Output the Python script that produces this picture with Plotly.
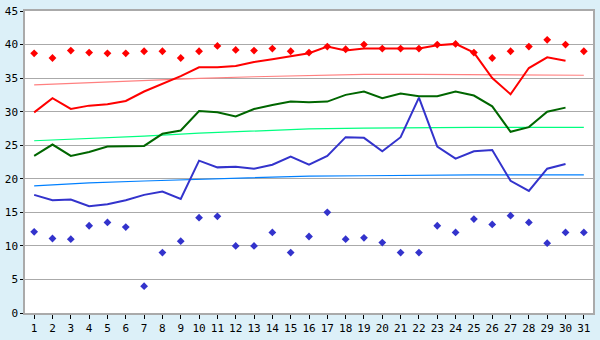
import plotly.graph_objects as go

days = list(range(1, 31))
days_all = list(range(1, 32))

avg_max = [29.9, 32.0, 30.4, 30.9, 31.1, 31.6, 33.0, 34.1, 35.3, 36.6,
           36.6, 36.8, 37.4, 37.8, 38.3, 38.7, 39.7, 39.1, 39.4, 39.4,
           39.3, 39.4, 39.9, 40.1, 38.8, 35.0, 32.6, 36.5, 38.1, 37.6]
avg_mean = [23.4, 25.1, 23.4, 24.0, 24.8, 24.9, 24.9, 26.7, 27.2, 30.1,
            29.9, 29.3, 30.4, 31.0, 31.5, 31.4, 31.5, 32.5, 33.0, 32.0,
            32.7, 32.3, 32.3, 33.0, 32.4, 30.8, 27.0, 27.7, 30.0, 30.6]
avg_min = [17.6, 16.8, 16.9, 15.9, 16.2, 16.8, 17.6, 18.1, 17.0, 22.7,
           21.7, 21.8, 21.5, 22.1, 23.3, 22.1, 23.4, 26.2, 26.1, 24.1,
           26.2, 32.1, 24.8, 23.0, 24.1, 24.3, 19.7, 18.2, 21.5, 22.2]
rec_max = [38.7, 38.0, 39.1, 38.8, 38.7, 38.7, 39.0, 39.0, 38.0, 39.0,
           39.8, 39.2, 39.1, 39.4, 39.0, 38.8, 39.7, 39.3, 40.0, 39.4,
           39.4, 39.4, 40.0, 40.1, 38.8, 38.0, 39.0, 39.7, 40.7, 40.0, 39.0]
rec_min = [12.1, 11.1, 11.0, 13.0, 13.5, 12.8, 4.0, 9.0, 10.7, 14.2,
           14.4, 10.0, 10.0, 12.0, 9.0, 11.4, 15.0, 11.0, 11.2, 10.5,
           9.0, 9.0, 13.0, 12.0, 14.0, 13.2, 14.5, 13.5, 10.4, 12.0, 12.0]

trend_x = [1, 4, 7, 10, 13, 16, 19, 22, 25, 28, 31]
trend_max = [34.0, 34.35, 34.65, 34.95, 35.2, 35.4, 35.55, 35.57, 35.55, 35.5, 35.43]
trend_mean = [25.67, 26.0, 26.35, 26.8, 27.1, 27.43, 27.55, 27.65, 27.67, 27.67, 27.67]
trend_min = [18.95, 19.38, 19.67, 19.9, 20.1, 20.4, 20.45, 20.55, 20.57, 20.57, 20.57]

x_ticks = [str(d) for d in days_all]
y_ticks = list(range(0, 46, 5))

fig = go.Figure()

def line(x, y, color, width):
    fig.add_trace(go.Scatter(x=x, y=y, mode="lines",
                             line=dict(color=color, width=width),
                             showlegend=False, hoverinfo="skip"))

line(trend_x, trend_max, "#FF8080", 1.2)
line(trend_x, trend_mean, "#00FF80", 1.2)
line(trend_x, trend_min, "#0080FF", 1.2)
line(days, avg_max, "#FF0000", 2)
line(days, avg_mean, "#006600", 2)
line(days, avg_min, "#3333CC", 2)

fig.add_trace(go.Scatter(x=days_all, y=rec_max, mode="markers",
                         marker=dict(symbol="diamond", size=6, color="#FF0000"),
                         showlegend=False))
fig.add_trace(go.Scatter(x=days_all, y=rec_min, mode="markers",
                         marker=dict(symbol="diamond", size=6, color="#3333CC"),
                         showlegend=False))

fig.update_layout(
    width=600, height=340,
    margin=dict(l=21, r=5, t=5, b=20),
    paper_bgcolor="#DCF0F8",
    plot_bgcolor="#FFFFFF",
    font=dict(family="DejaVu Sans Mono", size=11, color="#000000"),
    xaxis=dict(range=[0.5, 31.5], tickmode="array", tickvals=days_all,
               ticktext=x_ticks, ticks="outside", ticklen=4, tickcolor="#000000",
               showgrid=False, zeroline=False, showline=True, linecolor="#AAAAAA",
               linewidth=1.5, mirror=True, tickfont=dict(size=11)),
    yaxis=dict(range=[0, 45], tickmode="array", tickvals=y_ticks,
               ticks="outside", ticklen=3, tickcolor="#000000",
               showgrid=True, gridcolor="#AAAAAA", gridwidth=1, zeroline=False,
               showline=True, linecolor="#AAAAAA", linewidth=1.5, mirror=True,
               tickfont=dict(size=11)),
)

fig.write_html("out.html")
